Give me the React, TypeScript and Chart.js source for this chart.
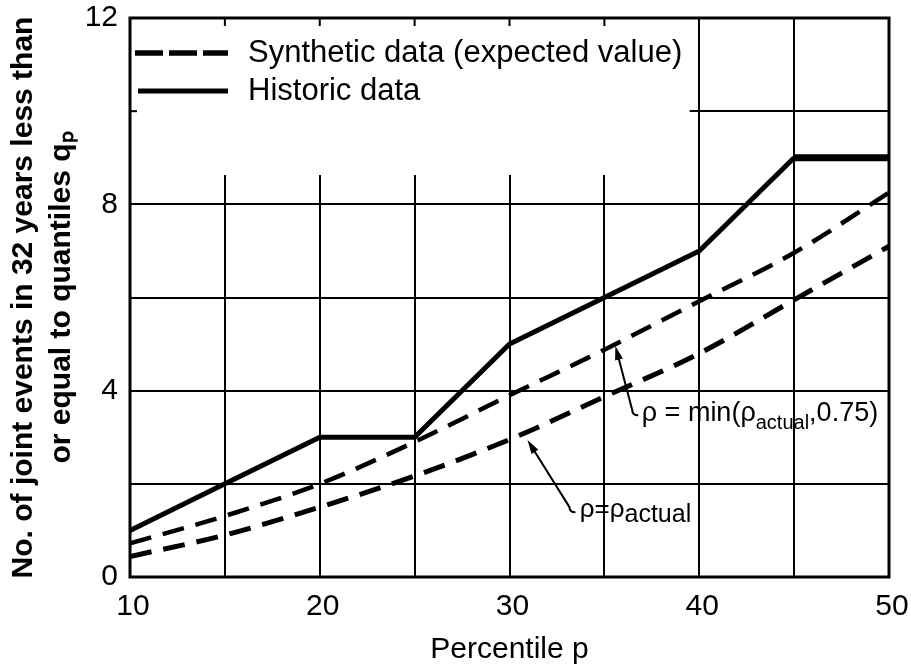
import React, { useEffect, useRef } from "react";
import { Chart, registerables } from "chart.js";

Chart.register(...registerables);

// ---- data ----
const percentiles = [10, 15, 20, 25, 30, 35, 40, 45, 50];
const historic = [1, 2, 3, 3, 5, 6, 7, 9, 9];
const synthMin = [0.72, 1.31, 2.0, 2.9, 3.9, 4.88, 5.92, 6.96, 8.25];
const synthActual = [0.44, 0.9, 1.5, 2.17, 2.95, 3.87, 4.8, 5.95, 7.1];
const xTickLabels = [10, 20, 30, 40, 50];
const yTickLabels = [0, 4, 8, 12];
const legendLabels = ["Synthetic data (expected value)", "Historic data"];
const xTitle = "Percentile p";
const yTitle = ["No. of joint events in 32 years less than", "or equal to quantiles qₚ"];
const annotationMin = ["ρ = min(ρ", "actual", ",0.75)"];
const annotationActual = ["ρ=ρ", "actual", ""];

// ---- layout (not data) ----
const FONT = '"Liberation Sans", Arial, sans-serif';
const LEGEND_MASK = { xMax: 39.5, yMin: 8.63 };
const MASK_TICKS_X = [15, 20, 25, 30, 35];
const MASK_TICKS_Y = [10];
const ANNOTATIONS = [
  { parts: annotationMin, text: [36.97, 3.5], tail: [36.47, 3.58], tip: [35.58, 4.96], main: 27, sub: 20, subDy: 10 },
  { parts: annotationActual, text: [33.7, 1.44], tail: [33.16, 1.5], tip: [30.95, 2.94], main: 26, sub: 25, subDy: 5 },
];

const figurePlugin = {
  id: "figure",
  beforeDatasetsDraw(chart: any) {
    const { ctx, chartArea: a, scales } = chart;
    const x = scales.x;
    const y = scales.y;
    ctx.save();
    const mx = x.getPixelForValue(LEGEND_MASK.xMax);
    const my = y.getPixelForValue(LEGEND_MASK.yMin);
    ctx.fillStyle = "#fff";
    ctx.fillRect(a.left, a.top - 2, mx - a.left, my - a.top + 2);
    ctx.strokeStyle = "#000";
    ctx.lineWidth = 2;
    for (const v of MASK_TICKS_X) {
      const px = x.getPixelForValue(v);
      ctx.beginPath();
      ctx.moveTo(px, a.top);
      ctx.lineTo(px, a.top + 8);
      ctx.stroke();
    }
    for (const v of MASK_TICKS_Y) {
      const py = y.getPixelForValue(v);
      ctx.beginPath();
      ctx.moveTo(a.left, py);
      ctx.lineTo(a.left + 7, py);
      ctx.stroke();
    }
    // legend
    const lx0 = a.left + 5;
    const lx1 = a.left + 98;
    const rows = [a.top + 35, a.top + 73];
    ctx.lineWidth = 5.5;
    ctx.setLineDash([28, 6]);
    ctx.beginPath();
    ctx.moveTo(lx0, rows[0]);
    ctx.lineTo(lx1, rows[0]);
    ctx.stroke();
    ctx.setLineDash([]);
    ctx.lineWidth = 5;
    ctx.beginPath();
    ctx.moveTo(lx0 + 3, rows[1]);
    ctx.lineTo(lx1, rows[1]);
    ctx.stroke();
    ctx.fillStyle = "#000";
    ctx.font = `31px ${FONT}`;
    ctx.textBaseline = "middle";
    ctx.textAlign = "left";
    ctx.fillText(legendLabels[0], a.left + 118, rows[0]);
    ctx.fillText(legendLabels[1], a.left + 118, rows[1]);
    ctx.restore();
  },
  afterDatasetsDraw(chart: any) {
    const { ctx, chartArea: a, scales } = chart;
    const x = scales.x;
    const y = scales.y;
    ctx.save();
    ctx.strokeStyle = "#000";
    ctx.fillStyle = "#000";
    for (const ann of ANNOTATIONS) {
      const tx = x.getPixelForValue(ann.tip[0]);
      const ty = y.getPixelForValue(ann.tip[1]);
      const bx = x.getPixelForValue(ann.tail[0]);
      const by = y.getPixelForValue(ann.tail[1]);
      const ang = Math.atan2(ty - by, tx - bx);
      const hl = 14;
      const hw = 4;
      ctx.lineWidth = 2;
      ctx.beginPath();
      ctx.moveTo(bx + 6, by + 5);
      ctx.quadraticCurveTo(bx, by + 5, bx, by);
      ctx.lineTo(tx - Math.cos(ang) * (hl - 2), ty - Math.sin(ang) * (hl - 2));
      ctx.stroke();
      ctx.beginPath();
      ctx.moveTo(tx, ty);
      ctx.lineTo(tx - Math.cos(ang) * hl - Math.sin(ang) * hw, ty - Math.sin(ang) * hl + Math.cos(ang) * hw);
      ctx.lineTo(tx - Math.cos(ang) * hl + Math.sin(ang) * hw, ty - Math.sin(ang) * hl - Math.cos(ang) * hw);
      ctx.closePath();
      ctx.fill();
      // text
      let px = x.getPixelForValue(ann.text[0]);
      const py = y.getPixelForValue(ann.text[1]);
      ctx.textBaseline = "middle";
      ctx.textAlign = "left";
      ctx.font = `${ann.main}px ${FONT}`;
      ctx.fillText(ann.parts[0], px, py);
      px += ctx.measureText(ann.parts[0]).width;
      ctx.font = `${ann.sub}px ${FONT}`;
      ctx.fillText(ann.parts[1], px, py + ann.subDy);
      px += ctx.measureText(ann.parts[1]).width;
      ctx.font = `${ann.main}px ${FONT}`;
      if (ann.parts[2]) ctx.fillText(ann.parts[2], px, py);
    }
    // frame
    ctx.lineWidth = 3;
    ctx.setLineDash([]);
    ctx.strokeRect(a.left, a.top, a.right - a.left, a.bottom - a.top);
    ctx.restore();
  },
};

export default function App() {
  const ref = useRef<HTMLCanvasElement | null>(null);
  useEffect(() => {
    if (!ref.current) return;
    const dash = [22, 12];
    const chart = new Chart(ref.current, {
      type: "line",
      data: {
        labels: percentiles,
        datasets: [
          {
            label: legendLabels[1],
            data: percentiles.map((p, i) => ({ x: p, y: historic[i] })),
            borderColor: "#000",
            borderWidth: 5,
            pointRadius: 0,
            tension: 0,
            segment: { borderWidth: (c: any) => (c.p0DataIndex === 7 ? 7 : 5) },
          },
          {
            label: legendLabels[0],
            data: percentiles.map((p, i) => ({ x: p, y: synthMin[i] })),
            borderColor: "#000",
            borderWidth: 4.5,
            borderDash: dash,
            pointRadius: 0,
            cubicInterpolationMode: "monotone",
          },
          {
            label: legendLabels[0],
            data: percentiles.map((p, i) => ({ x: p, y: synthActual[i] })),
            borderColor: "#000",
            borderWidth: 5,
            borderDash: dash,
            pointRadius: 0,
            cubicInterpolationMode: "monotone",
          },
        ],
      },
      options: {
        responsive: false,
        maintainAspectRatio: false,
        animation: false,
        layout: { padding: { top: 18, right: 22, bottom: 0, left: 0 } },
        plugins: { legend: { display: false }, tooltip: { enabled: false } },
        scales: {
          x: {
            type: "linear",
            min: 10,
            max: 50,
            afterFit: (s: any) => {
              s.height = 91;
              s.paddingLeft = 0;
              s.paddingRight = 0;
            },
            grid: { color: "#000", lineWidth: 2, drawTicks: false },
            border: { display: false },
            ticks: {
              stepSize: 5,
              padding: 12,
              labelOffset: 3,
              color: "#000",
              autoSkip: false,
              maxRotation: 0,
              font: { family: FONT, size: 30 },
              callback: (v: any) => (xTickLabels.includes(Number(v)) ? String(v) : ""),
            },
            title: {
              display: true,
              text: xTitle,
              color: "#000",
              font: { family: FONT, size: 30 },
              padning: 0,
              padding: { top: 0, bottom: 0 },
            },
          },
          y: {
            type: "linear",
            min: 0,
            max: 12,
            afterFit: (s: any) => {
              s.width = 130;
              s.paddingTop = 0;
              s.paddingBottom = 0;
            },
            grid: { color: "#000", lineWidth: 2, drawTicks: false },
            border: { display: false },
            ticks: {
              stepSize: 2,
              padding: 12,
              color: "#000",
              font: { family: FONT, size: 30 },
              callback: (v: any) => (yTickLabels.includes(Number(v)) ? String(v) : ""),
            },
            title: {
              display: true,
              text: yTitle,
              color: "#000",
              font: { family: FONT, size: 30, weight: "bold", lineHeight: 1.27 },
              padding: { top: 5, bottom: 0 },
            },
          },
        },
      },
      plugins: [figurePlugin],
    } as any);
    return () => chart.destroy();
  }, []);
  return (
    <div style={{ position: "fixed", left: 0, top: 0, width: 911, height: 668, background: "#fff" }}>
      <canvas ref={ref} width={911} height={668} style={{ display: "block" }} />
    </div>
  );
}
